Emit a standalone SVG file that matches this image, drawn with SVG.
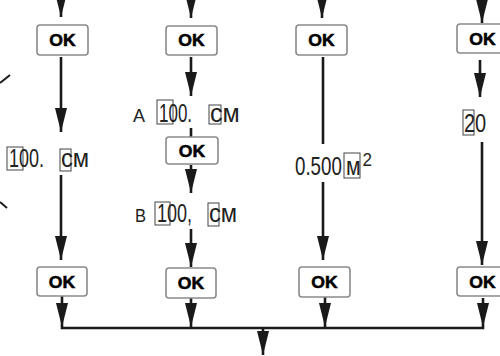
<svg xmlns="http://www.w3.org/2000/svg" width="500" height="356" viewBox="0 0 500 356">
<style>
.ok rect{fill:#fff;stroke:#8a8a8a;stroke-width:1.6}
.ok text{font-family:"Liberation Sans",Arial,sans-serif;font-weight:bold;font-size:16px;fill:#000;stroke:#000;stroke-width:0.5;text-anchor:middle}
.ln{stroke:#1a1a1a;stroke-width:2.6;fill:none}
.ar{stroke:#1a1a1a;stroke-width:2.6;fill:none;marker-end:url(#ah)}
.v{font-family:"Liberation Sans",Arial,sans-serif;font-size:25px;fill:#222}
.s{font-family:"Liberation Sans",Arial,sans-serif;font-size:19px;fill:#222}
.bx{fill:none;stroke:#444;stroke-width:1}
</style>
<defs>
<marker id="ah" markerUnits="userSpaceOnUse" markerWidth="24" markerHeight="12" refX="24" refY="6" orient="auto">
<path d="M0,0 L24,6 L0,12 z" fill="#1a1a1a"/>
</marker>
</defs>
<g id="connectors">
<line class="ar" x1="61" y1="-10" x2="61" y2="17"/>
<line class="ar" x1="191" y1="-10" x2="191" y2="18"/>
<line class="ar" x1="322" y1="-10" x2="322" y2="18"/>
<line class="ar" x1="482" y1="-10" x2="482" y2="23"/>
<line class="ar" x1="61" y1="57" x2="61" y2="132"/>
<line class="ar" x1="61" y1="175" x2="61" y2="260"/>
<line class="ar" x1="62" y1="296" x2="62" y2="327"/>
<line class="ar" x1="191" y1="57" x2="191" y2="96"/>
<line class="ln" x1="191" y1="128" x2="191" y2="137"/>
<line class="ar" x1="191" y1="165" x2="191" y2="193"/>
<line class="ar" x1="191" y1="229" x2="191" y2="267"/>
<line class="ar" x1="191" y1="298" x2="191" y2="327"/>
<line class="ln" x1="323" y1="57" x2="323" y2="144"/>
<line class="ar" x1="323" y1="182" x2="323" y2="260"/>
<line class="ar" x1="325" y1="297" x2="325" y2="327"/>
<line class="ar" x1="480" y1="60" x2="480" y2="97"/>
<line class="ar" x1="482" y1="142" x2="482" y2="265"/>
<line class="ar" x1="483" y1="298" x2="483" y2="327"/>
<line class="ln" x1="60.7" y1="328" x2="484.3" y2="328"/>
<line class="ar" x1="263" y1="328" x2="263" y2="355"/>
<line class="ln" x1="0" y1="83" x2="10" y2="75" style="stroke-width:2"/>
<line class="ln" x1="0" y1="202" x2="7" y2="208" style="stroke-width:2"/>
</g>
<g id="ok1a" class="ok"><rect x="37" y="25" width="51" height="30" rx="3"/><text transform="translate(62.5,46) scale(1.1,1)">OK</text></g>
<g id="ok2a" class="ok"><rect x="166" y="26" width="51" height="29" rx="3"/><text transform="translate(191.5,46) scale(1.1,1)">OK</text></g>
<g id="ok3a" class="ok"><rect x="296" y="25" width="51" height="30" rx="3"/><text transform="translate(321.5,46) scale(1.1,1)">OK</text></g>
<g id="ok4a" class="ok"><rect x="457" y="24" width="51" height="29" rx="3"/><text transform="translate(482.5,45) scale(1.1,1)">OK</text></g>
<g id="ok2m" class="ok"><rect x="166" y="137" width="52" height="27" rx="3"/><text transform="translate(192,157) scale(1.1,1)">OK</text></g>
<g id="ok1b" class="ok"><rect x="37" y="267" width="50" height="29" rx="3"/><text transform="translate(62,288) scale(1.1,1)">OK</text></g>
<g id="ok2b" class="ok"><rect x="166" y="268" width="50" height="30" rx="3"/><text transform="translate(191,289) scale(1.1,1)">OK</text></g>
<g id="ok3b" class="ok"><rect x="299" y="267" width="51" height="30" rx="3"/><text transform="translate(324.5,288) scale(1.1,1)">OK</text></g>
<g id="ok4b" class="ok"><rect x="457" y="267" width="51" height="29" rx="3"/><text transform="translate(482.5,288) scale(1.1,1)">OK</text></g>
<g id="val1">
<rect class="bx" x="7" y="147" width="16" height="23"/>
<rect class="bx" x="60" y="149" width="11" height="22"/>
<text class="v" transform="translate(9,167) scale(0.72,1)">100.</text>
<text class="v" transform="translate(61,167) scale(0.95,1)">см</text>
</g>
<g id="valA">
<rect class="bx" x="157" y="100" width="16" height="24"/>
<rect class="bx" x="209" y="105" width="12" height="19"/>
<text class="s" transform="translate(133,122) scale(0.95,1)">A</text>
<text class="v" transform="translate(159,122) scale(0.68,1)">100.</text>
<text class="v" transform="translate(210,122) scale(1,1)">см</text>
</g>
<g id="valB">
<rect class="bx" x="155" y="202" width="15" height="23"/>
<rect class="bx" x="208" y="203" width="11" height="23"/>
<text class="s" transform="translate(135,222) scale(0.87,1)">B</text>
<text class="v" transform="translate(157,222) scale(0.72,1)">100,</text>
<text class="v" transform="translate(209,222) scale(0.95,1)">см</text>
</g>
<g id="val3">
<rect class="bx" x="344" y="153" width="16" height="25"/>
<text class="v" transform="translate(295,175) scale(0.75,1)">0.500</text>
<text class="v" transform="translate(346,175) scale(0.85,1)">м</text>
<text class="s" font-size="15" transform="translate(362.5,166) scale(0.9,1)">2</text>
</g>
<g id="val4">
<rect class="bx" x="463" y="110" width="11" height="25"/>
<text class="v" transform="translate(464,132) scale(0.8,1)">20</text>
</g>
</svg>
